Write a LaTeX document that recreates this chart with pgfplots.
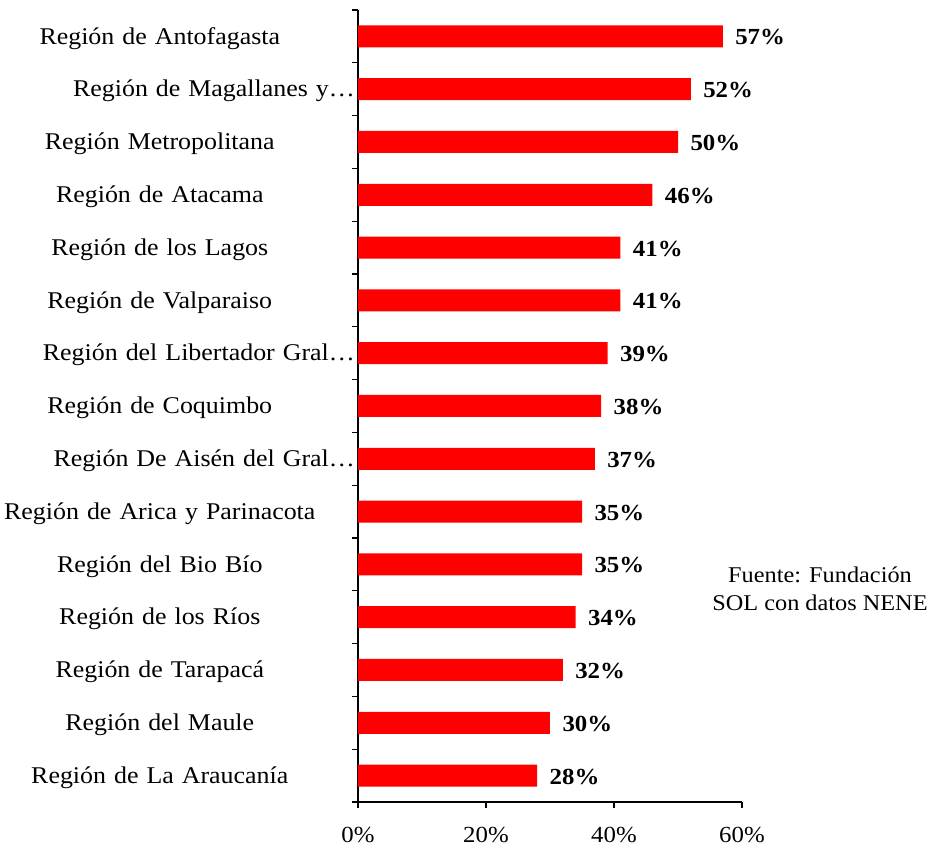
\documentclass[border=0pt]{standalone}
\usepackage{fontspec}
\setmainfont{Liberation Serif}[FakeStretch=1.08]
\usepackage{pgfplots}
\pgfplotsset{compat=1.18}
\newcommand{\tr}{\hspace*{0pt plus 1fill}}
\begin{document}
\begin{tikzpicture}
\useasboundingbox (0,0) rectangle (938bp,850bp);
\begin{axis}[
  at={(358bp,48bp)}, anchor=south west,
  scale only axis, width=384bp, height=792bp,
  /pgf/number format/assume math mode=true,
  xbar, bar width=22bp, bar shift=0pt,
  xmin=0, xmax=60, ymin=-0.5, ymax=14.5,
  axis x line*=bottom, axis y line*=left,
  axis line style={line width=1.4bp, black},
  tick align=outside, major tick length=6bp,
  tick style={line width=1.2bp, black},
  xtick={0,20,40,60}, xticklabels={0\%,20\%,40\%,60\%},
  xticklabel style={font=\fontsize{23bp}{27bp}\selectfont, yshift=-16bp},
  ytick={-0.5,0.5,...,14.5}, yticklabels={},
  extra y ticks={0,...,14},
  extra y tick labels={Región de La Araucanía,Región del Maule,Región de Tarapacá,Región de los Ríos,Región del Bio Bío,Región de Arica y Parinacota,\tr Región De Aisén del Gral…,Región de Coquimbo,\tr Región del Libertador Gral…,Región de Valparaiso,Región de los Lagos,Región de Atacama,Región Metropolitana,\tr Región de Magallanes y…,Región de Antofagasta},
  extra y tick style={major tick length=0pt,
    yticklabel style={font=\fontsize{24bp}{28bp}\selectfont, text width=390bp, align=center, inner xsep=0pt, xshift=-3bp, yshift=-2bp}},
  nodes near coords={\pgfmathprintnumber{\pgfplotspointmeta}\%},
  nodes near coords style={font=\bfseries\fontsize{23bp}{27bp}\selectfont, anchor=west, xshift=9bp, yshift=-1bp, black},
  point meta=x,
]
\addplot[fill={rgb,255:red,255;green,0;blue,0}, draw=none] coordinates {
(57,14) (52,13) (50,12) (46,11) (41,10) (41,9) (39,8) (38,7) (37,6) (35,5) (35,4) (34,3) (32,2) (30,1) (28,0)
};
\end{axis}
\node[align=center, font=\fontsize{22.5bp}{28bp}\selectfont] at (820bp,261bp) {Fuente: Fundación\\SOL con datos NENE};
\end{tikzpicture}
\end{document}
